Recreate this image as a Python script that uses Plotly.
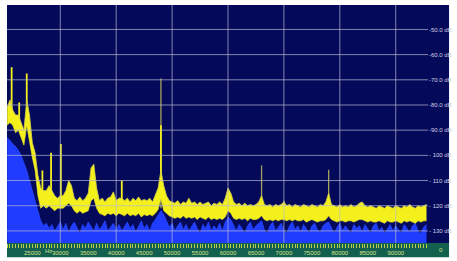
import plotly.graph_objects as go

# ---------------- data ----------------
freq_hz = list(range(20500, 96000, 500))   # analyser bins, 500 Hz apart

# averaged spectrum (yellow band): upper and lower edge, dB
avg_hi_db = [
    -81, -78, -82, -84, -84, -87, -90, -78, -84, -95,
    -99, -108, -113, -114, -114, -112, -114, -116, -117, -116,
    -116, -114, -110, -112, -117, -118, -116.5, -118, -117, -115,
    -105, -103.5, -113, -118, -117, -118.5, -117, -116.5, -114.5, -118,
    -117, -117, -118, -117, -118.5, -117, -118, -116.5, -118, -117.5,
    -118, -117, -118.5, -116, -113, -106, -112, -116, -118, -118.5,
    -119, -118, -119.5, -118.5, -119, -117, -119, -118.5, -119.5, -118.5,
    -119.5, -119, -118.5, -120, -119, -119.5, -118.5, -119.5, -117, -113,
    -115, -118.5, -119.5, -119, -120, -119, -120, -119.5, -120, -119.5,
    -118.5, -116, -119.5, -120, -119.5, -120.5, -119.5, -120, -119.5, -118.5,
    -120, -119.5, -120.5, -119.5, -120, -120.5, -119.5, -120, -120.5, -119.5,
    -120, -120.5, -119.5, -120, -118.5, -115, -119.5, -120, -120.5, -119.5,
    -120.5, -120, -120.5, -119.5, -120.5, -120, -119, -118.5, -120, -120.5,
    -120, -120.5, -121, -120, -120.5, -121, -120, -120.5, -121, -120,
    -120.5, -121, -120, -120.5, -119.5, -120.5, -121, -120, -120.5, -120,
    -119.5,
]
avg_lo_db = [
    -88, -87, -88, -91, -90, -93, -96, -88, -95, -101,
    -106, -116, -121, -120, -121, -120, -121, -122, -121, -121,
    -121, -120, -119, -120, -122, -123, -122, -123, -122.5, -122,
    -118, -117, -121, -123, -123.5, -124, -123, -123.5, -123, -124,
    -123, -123.5, -124, -123, -124, -123.5, -124, -123, -124.5, -123.5,
    -124, -123.5, -124, -123, -121.5, -117, -122, -123, -124, -124.5,
    -125, -124.5, -125, -124, -125, -124.5, -125, -124.5, -125.5, -124.5,
    -125, -125.5, -124.5, -125.5, -125, -125.5, -125, -125.5, -124.5, -122,
    -123, -125, -125.5, -125, -125.5, -125, -126, -125, -125.5, -125.5,
    -125, -124, -125.5, -126, -125.5, -126, -125.5, -126, -125.5, -125.5,
    -126, -125.5, -126, -125.5, -126, -126, -125.5, -126.5, -126, -125.5,
    -126, -126.5, -126, -126, -125.5, -124, -125.5, -126, -126.5, -126,
    -126, -126.5, -126, -126, -126.5, -126, -125.5, -125.5, -126, -126.5,
    -126, -126.5, -126.5, -126, -126.5, -127, -126, -126.5, -126.5, -126,
    -126.5, -127, -126, -126.5, -126, -126.5, -127, -126, -126.5, -126,
    -126,
]

# narrow peaks of the averaged spectrum (yellow spikes)
ypk_freq_hz = [21300, 22650, 24000, 26800, 28350, 30100, 41000, 48000]
ypk_top_db = [-65, -79, -67.5, -106, -99, -95.5, -110, -88]
ypk_base_db = [-84, -86, -80, -116, -116, -117, -118, -108]

# instantaneous spectrum (blue area): top edge, dB
blue_top_db = [
    -93, -94, -95.5, -96.5, -98, -100, -103, -106, -110, -114,
    -118, -122, -126, -128, -127, -129, -127.5, -130, -128, -126.5,
    -129.5, -127, -130.5, -128, -126.5, -129, -131, -127.5, -129, -126.5,
    -128.5, -130, -127, -129.5, -128, -126, -130, -128.5, -127, -129.5,
    -127.5, -130, -128, -126.5, -129, -127.5, -130.5, -128, -126, -129,
    -127.5, -130, -127, -125.5, -124, -122, -123.5, -126, -128.5, -127,
    -130, -128, -126.5, -129.5, -127.5, -130, -128, -126.5, -129, -131,
    -127.5, -129, -126.5, -130, -128, -129.5, -127, -130, -126.5, -124.5,
    -125.5, -128, -130, -127.5, -129, -131, -128, -126.5, -129.5, -128,
    -127, -126, -129.5, -131, -128, -126.5, -130, -128.5, -127, -129.5,
    -131, -128, -126.5, -129.5, -128, -130.5, -127.5, -129, -131, -128,
    -127, -129.5, -130.5, -128, -127, -126.5, -129, -131, -128.5, -127,
    -130, -128, -129.5, -131, -127.5, -129, -128, -130.5, -127.5, -129.5,
    -131, -128, -127, -130, -128.5, -131, -129, -127.5, -130, -128,
    -129.5, -131, -127.5, -129, -130.5, -128, -127, -130, -131, -128.5,
    -127.5,
]
floor_db = -140

# peak-hold spikes (olive)
hold_freq_hz = [48000, 53000, 60000, 60300, 66000, 70000, 78000, 84000, 92500]
hold_peak_db = [-69.5, -118, -115, -117, -104, -118, -105.7, -119, -120]
hold_base_db = -121

x_tick_vals = list(range(25000, 95000, 5000))
x_tick_text = [str(v) for v in x_tick_vals]
grid_x_hz = [30000, 40000, 50000, 60000, 70000, 80000, 90000]
y_tick_vals = [-50, -60, -70, -80, -90, -100, -110, -120, -130]
y_tick_text = ["-50.0 dB", "-60.0 dB", "-70.0 dB", "-80.0 dB", "-90.0 dB",
               "- 100 dB", "- 110 dB", "- 120 dB", "- 130 dB"]
x_range = [20470, 95770]
y_range = [-134.8, -40.3]

# ---------------- styles ----------------
NAVY = "#04095a"
TEAL = "#13604f"
BLUE = "#1f3cff"
YELLOW = "#f4f01c"
OLIVE = "#a3a25c"
GRID = "rgba(185,185,210,0.7)"
TICK_YEL = "#b9cf4a"
LABEL_YEL = "#d8e08a"
FONT = "Liberation Sans"

fig = go.Figure()

fig.add_trace(go.Scatter(x=freq_hz, y=[floor_db] * len(freq_hz), mode="lines",
                         line=dict(width=0), hoverinfo="skip", showlegend=False))
fig.add_trace(go.Scatter(x=freq_hz, y=blue_top_db, mode="lines", fill="tonexty",
                         fillcolor=BLUE, line=dict(color="#2b4cff", width=0.7),
                         showlegend=False))

sx, sy = [], []
for f, p in zip(hold_freq_hz, hold_peak_db):
    sx += [f, f, None]
    sy += [hold_base_db, p, None]
fig.add_trace(go.Scatter(x=sx, y=sy, mode="lines", line=dict(color=OLIVE, width=1.3),
                         showlegend=False))

px, py = [], []
for f, t, b in zip(ypk_freq_hz, ypk_top_db, ypk_base_db):
    px += [f, f, None]
    py += [b, t, None]
fig.add_trace(go.Scatter(x=px, y=py, mode="lines", line=dict(color=YELLOW, width=1.8),
                         showlegend=False))

fig.add_trace(go.Scatter(x=freq_hz, y=avg_lo_db, mode="lines",
                         line=dict(color=YELLOW, width=0.6), showlegend=False))
fig.add_trace(go.Scatter(x=freq_hz, y=avg_hi_db, mode="lines", fill="tonexty",
                         fillcolor=YELLOW, line=dict(color="#d6d248", width=0.8),
                         showlegend=False))

shapes = [
    dict(type="rect", xref="paper", yref="paper", x0=0, x1=1.05, y0=0, y1=1,
         fillcolor=NAVY, line=dict(width=0), layer="below"),
    dict(type="rect", xref="paper", yref="paper", x0=0, x1=1.05, y0=-0.06, y1=0,
         fillcolor=TEAL, line=dict(width=0), layer="below"),
]
for gx in grid_x_hz:
    shapes.append(dict(type="line", xref="x", yref="paper", x0=gx, x1=gx, y0=0, y1=1,
                       line=dict(color=GRID, width=1), layer="above"))
for gy in y_tick_vals:
    shapes.append(dict(type="line", xref="paper", yref="y", x0=0, x1=1, y0=gy, y1=gy,
                       line=dict(color=GRID, width=1), layer="above"))

fig.update_layout(
    width=457, height=261,
    margin=dict(l=7, r=19, t=5, b=13, pad=0),
    paper_bgcolor="white", plot_bgcolor=NAVY,
    shapes=shapes,
    font=dict(family=FONT, size=6),
    annotations=[
        dict(text="Hz", xref="paper", yref="paper", x=0.0986, y=-0.0185,
             showarrow=False, font=dict(family=FONT, size=6, color=LABEL_YEL),
             xanchor="center", yanchor="top", borderpad=0),
        dict(text="0", xref="paper", yref="paper", x=1.030, y=-0.014,
             showarrow=False, font=dict(family=FONT, size=6, color=LABEL_YEL),
             xanchor="center", yanchor="top", borderpad=0),
    ],
)
fig.update_xaxes(range=x_range, showgrid=False, zeroline=False, showline=False,
                 ticks="outside", ticklen=4, tickwidth=1, tickcolor=TICK_YEL,
                 tickmode="array", tickvals=x_tick_vals, ticktext=x_tick_text,
                 tickfont=dict(family=FONT, size=6, color=LABEL_YEL),
                 minor=dict(tickmode="linear", tick0=20000, dtick=500, ticks="outside",
                            ticklen=4, tickwidth=1, tickcolor=TICK_YEL, showgrid=False))
fig.update_yaxes(range=y_range, side="right", showgrid=False, zeroline=False,
                 showline=False, ticks="", tickmode="array", tickvals=y_tick_vals,
                 ticktext=y_tick_text, ticklabeloverflow="allow",
                 tickfont=dict(family=FONT, size=6, color="#d2d2e2"))

fig.write_html("out.html", config={"displayModeBar": False},
               post_script="document.body.style.margin='0';")
